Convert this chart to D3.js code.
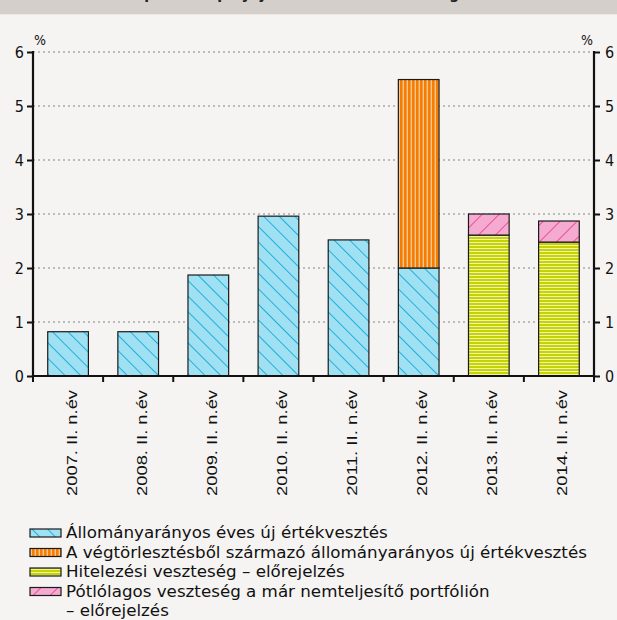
<!DOCTYPE html>
<html><head><meta charset="utf-8">
<script src="https://cdn.jsdelivr.net/npm/d3@7/dist/d3.min.js"></script>
<style>
html,body{margin:0;padding:0;background:#f5f4f2;}
svg{display:block;}
</style></head>
<body>
<script>
const categories = ["2007. II. n.év","2008. II. n.év","2009. II. n.év","2010. II. n.év","2011. II. n.év","2012. II. n.év","2013. II. n.év","2014. II. n.év"];
const allomanyaranyos = [0.82,0.82,1.87,2.96,2.52,2.00,0,0];
const vegtorlesztes   = [0,0,0,0,0,3.49,0,0];
const hitelezesi      = [0,0,0,0,0,0,2.61,2.48];
const potlolagos      = [0,0,0,0,0,0,0.39,0.39];
const yTicks = [0,1,2,3,4,5,6];
const seriesNames = [
  "Állományarányos éves új értékvesztés",
  "A végtörlesztésből származó állományarányos új értékvesztés",
  "Hitelezési veszteség – előrejelzés",
  "Pótlólagos veszteség a már nemteljesítő portfólión",
  "– előrejelzés"
];
const titleText = "A háztartási hitelportfólió pályája: a hitelezési veszteségek alakulása";

const W = 617, H = 620;
const svg = d3.select("body").append("svg").attr("width", W).attr("height", H);
svg.append("rect").attr("width", W).attr("height", H).attr("fill", "#f5f4f2");

// header band
svg.append("rect").attr("x",0).attr("y",0).attr("width",W).attr("height",14).attr("fill","#d4cfca");
svg.append("rect").attr("x",0).attr("y",14).attr("width",W).attr("height",1).attr("fill","#ecebe8");
svg.append("text").attr("x",8).attr("y",-1).attr("font-family","DejaVu Sans").attr("font-weight","bold")
  .attr("font-size",14).attr("fill","#222").text(titleText);

// patterns
const defs = svg.append("defs");
function pat(id, w, h, bg, draw, rot) {
  const p = defs.append("pattern").attr("id", id).attr("patternUnits","userSpaceOnUse")
    .attr("width", w).attr("height", h);
  if (rot) p.attr("patternTransform", "rotate(" + rot + ")");
  p.append("rect").attr("width", w).attr("height", h).attr("fill", bg);
  draw(p);
}
pat("pBlue", 11, 11, "#9fe1f2", p => p.append("line").attr("x1",0).attr("y1",0).attr("x2",0).attr("y2",11)
  .attr("stroke","#08a6d6").attr("stroke-width",1.7), -45);
pat("pOrange", 4, 4, "#f9c591", p => p.append("rect").attr("x",0).attr("y",0).attr("width",2.6).attr("height",4).attr("fill","#f57d00"));
pat("pGreen", 4, 3, "#eef3b4", p => p.append("rect").attr("x",0).attr("y",0).attr("width",4).attr("height",2).attr("fill","#c6d300"));
pat("pPink", 12, 12, "#f5aad0", p => p.append("line").attr("x1",0).attr("y1",0).attr("x2",0).attr("y2",12)
  .attr("stroke","#e5348d").attr("stroke-width",1.6), 45);

const pLeft = 33, pRight = 594, pTop = 52, pBottom = 376;
const x = d3.scaleBand().domain(categories).range([pLeft, pRight]).paddingInner(0.42).paddingOuter(0.21);
const y = d3.scaleLinear().domain([0, 6]).range([pBottom, pTop]);

// gridlines
svg.append("g").selectAll("line").data(yTicks.filter(d => d > 0)).join("line")
  .attr("x1", pLeft).attr("x2", pRight).attr("y1", d => y(d)).attr("y2", d => y(d))
  .attr("stroke", "#a9a9a9").attr("stroke-width", 1.5).attr("stroke-dasharray", "2,3");

// stacked bars
const series = [
  {vals: allomanyaranyos, fill: "url(#pBlue)"},
  {vals: vegtorlesztes, fill: "url(#pOrange)"},
  {vals: hitelezesi, fill: "url(#pGreen)"},
  {vals: potlolagos, fill: "url(#pPink)"}
];
const segs = [];
categories.forEach((c, i) => {
  let base = 0;
  series.forEach(s => {
    const v = s.vals[i];
    if (v > 0) { segs.push({c, y0: base, y1: base + v, fill: s.fill}); base += v; }
  });
});
svg.append("g").selectAll("rect").data(segs).join("rect")
  .attr("x", d => x(d.c)).attr("width", x.bandwidth())
  .attr("y", d => y(d.y1)).attr("height", d => y(d.y0) - y(d.y1))
  .attr("fill", d => d.fill).attr("stroke", "#1a1a1a").attr("stroke-width", 1.2);

// axes
const tickFont = "DejaVu Sans Condensed";
const axL = svg.append("g").attr("transform", `translate(${pLeft},0)`)
  .call(d3.axisLeft(y).tickValues(yTicks).tickSize(6).tickPadding(3).tickFormat(d3.format("d")));
const axR = svg.append("g").attr("transform", `translate(${pRight},0)`)
  .call(d3.axisRight(y).tickValues(yTicks).tickSize(6).tickPadding(5).tickFormat(d3.format("d")));
[axL, axR].forEach(a => {
  a.select(".domain").remove();
  a.selectAll(".tick line").attr("stroke", "#111").attr("stroke-width", 2);
  a.selectAll(".tick text").attr("font-family", tickFont).attr("font-size", 16).attr("fill", "#111");
  a.append("line").attr("x1",0).attr("x2",0).attr("y1", pTop - 1).attr("y2", pBottom + 1)
    .attr("stroke","#111").attr("stroke-width",2.2);
});
svg.append("text").attr("x", pLeft + 1).attr("y", 45).attr("font-family", tickFont).attr("font-size", 14)
  .attr("fill","#111").text("%");
svg.append("text").attr("x", pRight - 1).attr("y", 45).attr("text-anchor","end").attr("font-family", tickFont)
  .attr("font-size", 14).attr("fill","#111").text("%");

// x axis
const step = x.step();
const bounds = d3.range(categories.length + 1).map(i => pLeft + i * step);
svg.append("line").attr("x1", pLeft - 1).attr("x2", pRight + 1).attr("y1", pBottom).attr("y2", pBottom)
  .attr("stroke","#111").attr("stroke-width",2.2);
svg.append("g").selectAll("line").data(bounds).join("line")
  .attr("x1", d => d).attr("x2", d => d).attr("y1", pBottom).attr("y2", pBottom + 6)
  .attr("stroke","#111").attr("stroke-width",2);

const xl = svg.append("g").selectAll("text").data(categories).join("text")
  .attr("font-family","Liberation Sans").attr("font-size",15).attr("fill","#111")
  .attr("text-anchor","end").text(d => d);
xl.each(function(d) {
  const len = this.getComputedTextLength();
  const k = 106 / len;
  const cx = x(d) + x.bandwidth() / 2 + 8.5;
  d3.select(this).attr("transform", `translate(${cx},390) rotate(-90) scale(${k},1)`);
});

// legend
const legendFills = ["url(#pBlue)","url(#pOrange)","url(#pGreen)","url(#pPink)"];
const lg = svg.append("g");
const baselines = [538, 557.5, 577, 596.5, 616];
const lt = lg.selectAll("text").data(seriesNames).join("text")
  .attr("font-family","DejaVu Sans Condensed").attr("font-size",16).attr("fill","#111")
  .text(d => d);
let k2 = 1;
lt.each(function(d, i) { if (i === 1) k2 = 521 / this.getComputedTextLength(); });
lt.attr("transform", (d, i) => `translate(66,${baselines[i]}) scale(${k2},1)`);
lg.selectAll("rect").data(legendFills).join("rect")
  .attr("x", 30).attr("y", (d, i) => baselines[i] - 9).attr("width", 31).attr("height", 8)
  .attr("fill", d => d).attr("stroke","#1a1a1a").attr("stroke-width",1.2);
</script>
</body></html>
